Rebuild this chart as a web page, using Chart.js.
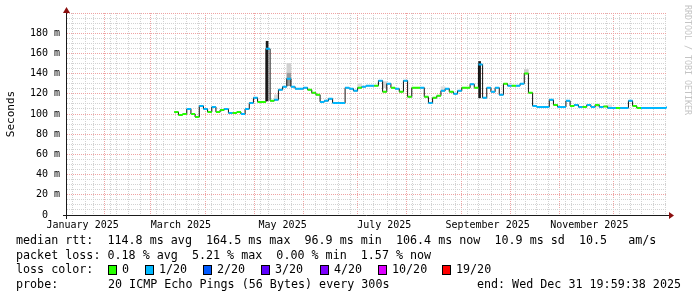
<!DOCTYPE html>
<html>
<head>
<meta charset="utf-8">
<script src="https://cdn.jsdelivr.net/npm/chart.js@4.4.1/dist/chart.umd.min.js"></script>
<style>
  html, body { margin: 0; padding: 0; background: #fff; }
  #wrap { width: 697px; height: 297px; }
</style>
</head>
<body>
<div id="wrap"><canvas id="chart" width="697" height="297"></canvas></div>
<script>
// x axis is in days since 1 Jan 2025; the view covers the last 360 days
const xMin = 5.64;
const xMax = 365.64;
const firstDay = 70;    // first sample with data (11 Mar)
const stepDays = 2.5;   // one consolidated point per 60 h

// median rtt per sample, in ms
const median = [
  102, 99, 100, 105, 100, 97, 108, 105, 102, 107,
  102, 104, 105, 101, 101, 102, 100, 105, 111, 116,
  112, 112, 164.5, 113, 114, 124, 127, 135, 127, 125,
  125, 126, 124, 121, 119, 112, 113, 115, 111, 111,
  111, 126, 125, 123, 126, 127, 128, 128, 128, 133,
  122, 130, 126, 125, 122, 133, 117, 126, 126, 126,
  117, 111, 116, 118, 123, 125, 122, 120, 123, 126,
  126, 129.5, 126, 149, 116, 126, 122, 126, 119, 130,
  128, 128, 128, 130, 140, 121, 108, 107, 107, 107,
  114, 109, 107, 107, 113, 108, 109, 107, 107, 109,
  107, 109, 107, 107.5, 106, 106, 106, 106, 106, 113,
  108, 106, 106, 106, 106, 106, 106, 106, 106.5
];

// pings lost out of 20 per sample
const lossLevel = [
  0, 0, 0, 1, 0, 0, 1, 1, 0, 1,
  0, 0, 1, 1, 0, 0, 1, 1, 1, 1,
  0, 0, 1, 0, 1, 1, 1, 1, 1, 1,
  1, 1, 0, 0, 0, 1, 1, 1, 1, 1,
  1, 1, 1, 1, 0, 1, 1, 1, 0, 1,
  0, 1, 0, 1, 0, 1, 0, 0, 0, 1,
  0, 1, 0, 0, 1, 1, 0, 1, 1, 0,
  0, 1, 0, 1, 1, 1, 1, 1, 1, 0,
  1, 0, 1, 1, 0, 0, 1, 1, 1, 1,
  1, 0, 1, 1, 1, 0, 1, 1, 0, 1,
  1, 0, 1, 0, 1, 1, 0, 1, 1, 1,
  0, 0, 1, 1, 1, 1, 1, 1, 1
];

// smoke (spread of the 20 pings) where it shows
const darkSmokeIdx = [22, 73];
const darkSmokeLo = [113, 116];
const darkSmokeHi = [172, 152];

const lightSmokeIdx = [24, 27, 27, 44, 50, 64, 84, 101, 104];
const lightSmokeLo = [114, 128, 141, 126, 126, 123, 140, 107, 106];
const lightSmokeHi = [119, 141, 150, 130, 132, 127, 144, 110, 109];
const lightSmokeShade = ['#d9d9d9', '#9a9a9a', '#d0d0d0', '#dddddd', '#d6d6d6', '#dddddd', '#cccccc', '#dddddd', '#e0e0e0'];

// time grid
const monthStarts = [31, 59, 90, 120, 151, 181, 212, 243, 273, 304, 334];
const monthLabelDays = [15, 74, 135, 196, 258, 319];
const monthLabels = ['January 2025', 'March 2025', 'May 2025', 'July 2025', 'September 2025', 'November 2025'];
const firstSunday = 11;

const lossSteps = ['0', '1/20', '2/20', '3/20', '4/20', '10/20', '19/20'];
const lossColors = ['#26ff00', '#00b8ff', '#0059ff', '#5e00ff', '#7e00ff', '#dd00ff', '#ff0000'];
const lossBoxX = [108, 145, 203, 261, 320, 378, 442];

const statLines = [
  'median rtt:  114.8 ms avg  164.5 ms max  96.9 ms min  106.4 ms now  10.9 ms sd  10.5   am/s',
  'packet loss: 0.18 % avg  5.21 % max  0.00 % min  1.57 % now'
];
const probeText = '20 ICMP Echo Pings (56 Bytes) every 300s';
const endText = 'end: Wed Dec 31 19:59:38 2025';

const MONO = 'DejaVu Sans Mono';
const gridMinor = '#d2d2d2';
const gridMajor = '#efa3a3';

function lossIndex(n) {
  if (n >= 19) return 6;
  if (n >= 10) return 5;
  if (n >= 4) return 4;
  return n;
}

// grid tick lists for the x axis
const weekLines = [];
for (let d = firstSunday; d <= xMax; d += 7) weekLines.push(d);
const xTickValues = Array.from(new Set([...weekLines, ...monthStarts, ...monthLabelDays]))
  .filter(v => v > xMin && v < xMax)
  .sort((a, b) => a - b);

// median as a step line
const stepData = median.map((v, i) => ({ x: firstDay + i * stepDays, y: v }));
stepData.push({ x: firstDay + median.length * stepDays, y: median[median.length - 1] });

// coloured horizontal pieces, one dataset per loss colour
const colourSets = lossColors.map((c, k) => {
  const pts = [];
  median.forEach((v, i) => {
    if (lossIndex(lossLevel[i]) !== k) return;
    const d0 = firstDay + i * stepDays;
    pts.push({ x: d0, y: v }, { x: d0 + stepDays, y: v }, { x: d0 + stepDays, y: null });
  });
  return {
    type: 'line',
    data: pts,
    borderColor: c,
    borderWidth: 2,
    borderCapStyle: 'butt',
    pointRadius: 0,
    spanGaps: false,
    order: 1
  };
}).filter(ds => ds.data.length);

const frame = {
  id: 'frame',
  afterDraw(chart) {
    const ctx = chart.ctx;
    const a = chart.chartArea;
    ctx.save();

    // axes with arrows
    ctx.strokeStyle = '#1a1a1a';
    ctx.lineWidth = 1;
    ctx.beginPath();
    ctx.moveTo(a.left - 4, a.bottom + 0.5);
    ctx.lineTo(a.right + 3, a.bottom + 0.5);
    ctx.moveTo(a.left - 0.5, a.bottom + 4);
    ctx.lineTo(a.left - 0.5, a.top - 1);
    ctx.stroke();
    ctx.fillStyle = '#8b0f0f';
    ctx.beginPath();
    ctx.moveTo(a.right + 2, a.bottom - 3);
    ctx.lineTo(a.right + 7, a.bottom + 0.5);
    ctx.lineTo(a.right + 2, a.bottom + 4);
    ctx.closePath();
    ctx.fill();
    ctx.beginPath();
    ctx.moveTo(a.left - 4, a.top);
    ctx.lineTo(a.left - 0.5, a.top - 6);
    ctx.lineTo(a.left + 3, a.top);
    ctx.closePath();
    ctx.fill();

    // unit label
    ctx.fillStyle = '#000';
    ctx.font = '11px ' + MONO;
    ctx.textAlign = 'center';
    ctx.textBaseline = 'middle';
    ctx.save();
    ctx.translate(11, 114);
    ctx.rotate(-Math.PI / 2);
    ctx.fillText('Seconds', 0, 0);
    ctx.restore();

    // watermark
    ctx.save();
    ctx.translate(687, 5);
    ctx.rotate(Math.PI / 2);
    ctx.textAlign = 'left';
    ctx.fillStyle = '#c4c4c4';
    ctx.font = '8.3px ' + MONO;
    ctx.fillText('RRDTOOL / TOBI OETIKER', 0, 0);
    ctx.restore();

    // legend block
    ctx.font = '11.7px ' + MONO;
    ctx.textAlign = 'left';
    ctx.fillStyle = '#000';
    ctx.fillText(statLines[0], 16, 241);
    ctx.fillText(statLines[1], 16, 255.5);
    ctx.fillText('loss color:', 16, 270);
    lossSteps.forEach((s, k) => {
      const bx = lossBoxX[k];
      ctx.fillStyle = lossColors[k];
      ctx.fillRect(bx, 265.5, 8, 9);
      ctx.strokeStyle = '#000';
      ctx.strokeRect(bx + 0.5, 265.5, 8, 9);
      ctx.fillStyle = '#000';
      ctx.fillText(s, bx + 14, 270);
    });
    ctx.fillText('probe:', 16, 284.5);
    ctx.fillText(probeText, 108, 284.5);
    ctx.textAlign = 'right';
    ctx.fillText(endText, 681, 284.5);
    ctx.restore();
  }
};

Chart.defaults.font.family = MONO;
Chart.defaults.color = '#000';

new Chart(document.getElementById('chart'), {
  type: 'line',
  data: {
    datasets: [
      {
        type: 'bar',
        data: darkSmokeIdx.map((k, j) => ({ x: firstDay + k * stepDays + 0.7, y: [darkSmokeLo[j], darkSmokeHi[j]] })),
        backgroundColor: '#1c1c1c',
        barThickness: 2,
        grouped: false,
        order: 3
      },
      {
        type: 'bar',
        data: lightSmokeIdx.map((k, j) => ({ x: firstDay + k * stepDays + stepDays / 2, y: [lightSmokeLo[j], lightSmokeHi[j]] })),
        backgroundColor: lightSmokeShade,
        barThickness: 4,
        grouped: false,
        order: 4
      },
      {
        type: 'line',
        data: stepData,
        stepped: 'before',
        borderColor: '#111',
        borderWidth: 1,
        pointRadius: 0,
        order: 2
      },
      ...colourSets
    ]
  },
  options: {
    responsive: false,
    animation: false,
    devicePixelRatio: 1,
    events: [],
    layout: { padding: { top: 13, right: 30, bottom: 62, left: 0 } },
    plugins: { legend: { display: false }, tooltip: { enabled: false } },
    scales: {
      x: {
        type: 'linear',
        min: xMin,
        max: xMax,
        offset: false,
        afterBuildTicks: s => { s.ticks = xTickValues.map(v => ({ value: v })); },
        afterFit: s => { s.height = 20; s.paddingLeft = 0; s.paddingRight = 0; },
        ticks: {
          autoSkip: false,
          maxRotation: 0,
          minRotation: 0,
          padding: 4,
          font: { family: MONO, size: 10 },
          callback: v => {
            const k = monthLabelDays.indexOf(v);
            return k >= 0 ? monthLabels[k] : '';
          }
        },
        grid: {
          drawTicks: false,
          lineWidth: 1,
          color: c => {
            if (!c.tick) return gridMinor;
            const v = c.tick.value;
            if (monthStarts.includes(v)) return gridMajor;
            if (weekLines.includes(v)) return gridMinor;
            return 'rgba(0,0,0,0)';
          }
        },
        border: { display: false, dash: [1, 1] }
      },
      y: {
        min: 0,
        max: 200,
        afterFit: s => { s.width = 67; s.paddingTop = 0; s.paddingBottom = 0; },
        ticks: {
          stepSize: 5,
          autoSkip: false,
          padding: 7,
          font: { family: MONO, size: 10 },
          callback: v => {
            if (v % 20 !== 0 || v >= 200) return '';
            return v === 0 ? '0  ' : v + ' m';
          }
        },
        grid: {
          drawTicks: false,
          lineWidth: 1,
          color: c => (c.tick && c.tick.value % 20 === 0 ? gridMajor : gridMinor)
        },
        border: { display: false, dash: [1, 1] }
      }
    }
  },
  plugins: [frame]
});
</script>
</body>
</html>
